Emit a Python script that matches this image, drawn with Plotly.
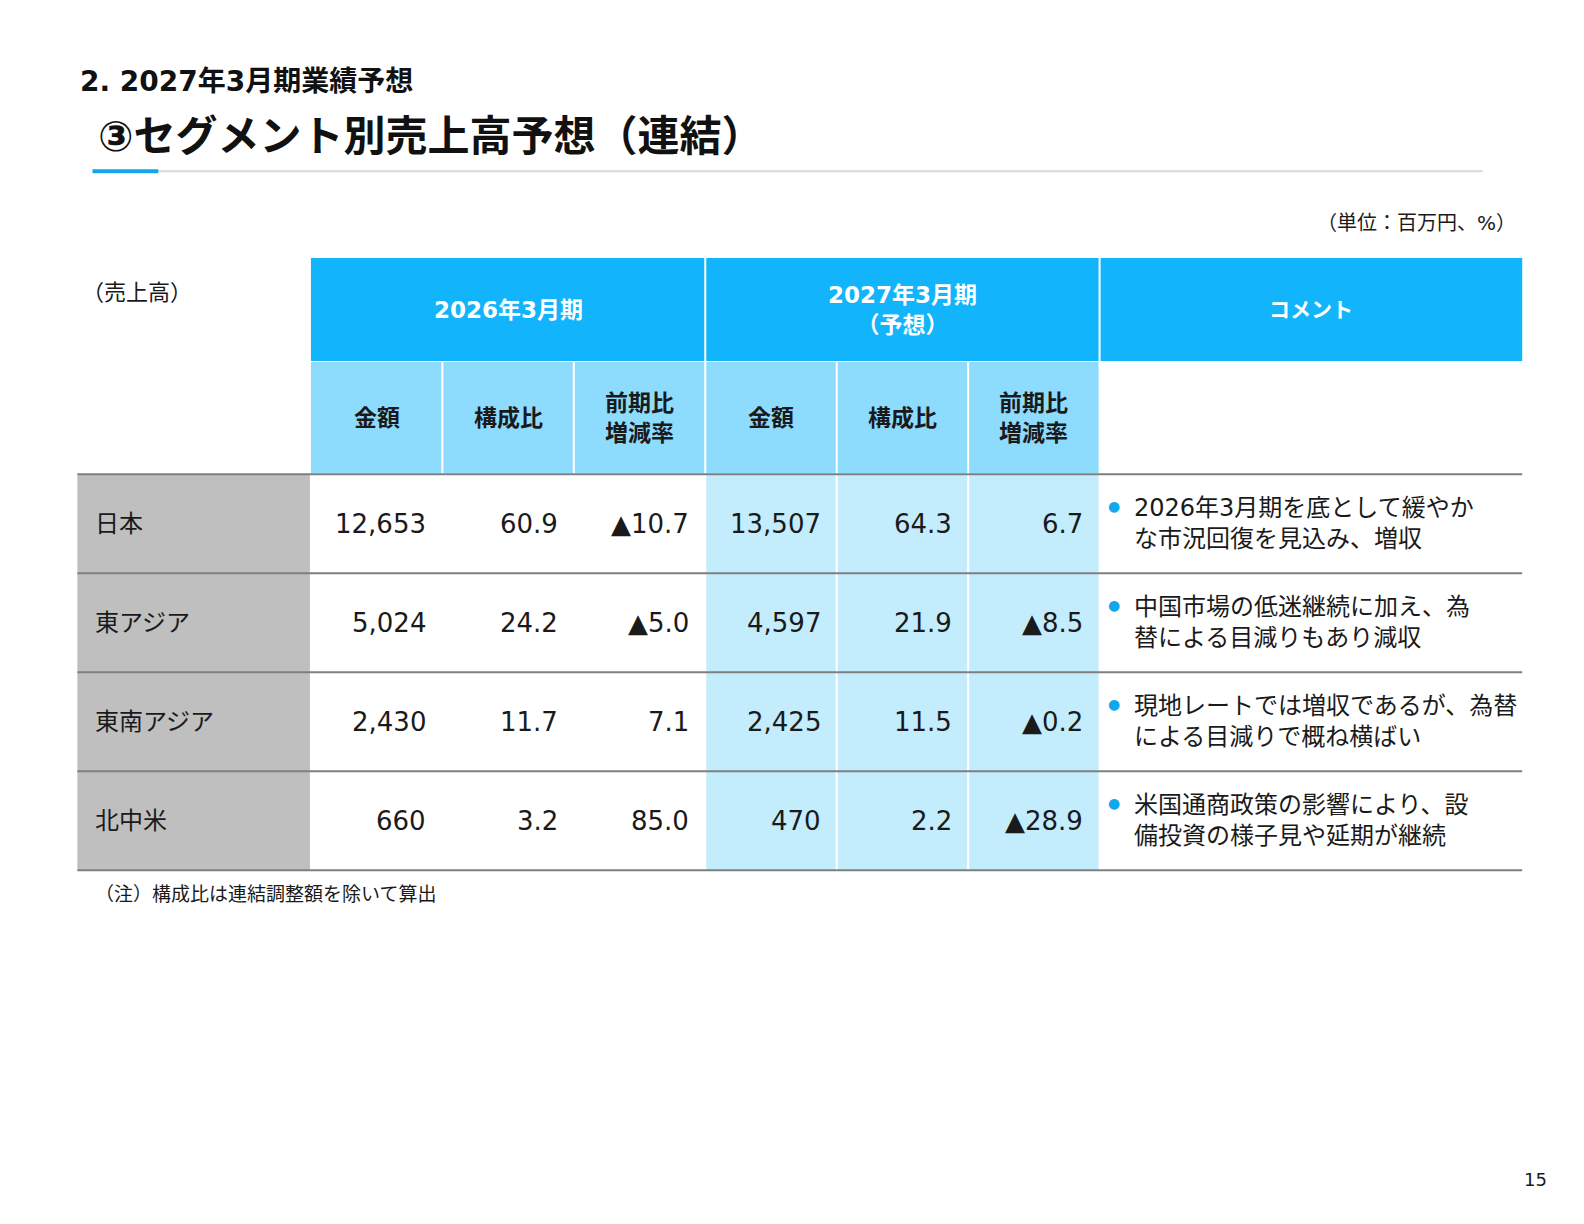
import plotly.graph_objects as go

regions = ["日本", "東アジア", "東南アジア", "北中米"]
amt_2026 = ["12,653", "5,024", "2,430", "660"]
share_2026 = ["60.9", "24.2", "11.7", "3.2"]
yoy_2026 = ["▲10.7", "▲5.0", "7.1", "85.0"]
amt_2027 = ["13,507", "4,597", "2,425", "470"]
share_2027 = ["64.3", "21.9", "11.5", "2.2"]
yoy_2027 = ["6.7", "▲8.5", "▲0.2", "▲28.9"]
comments = [
    ["2026年3月期を底として緩やか", "な市況回復を見込み、増収"],
    ["中国市場の低迷継続に加え、為", "替による目減りもあり減収"],
    ["現地レートでは増収であるが、為替", "による目減りで概ね横ばい"],
    ["米国通商政策の影響により、設", "備投資の様子見や延期が継続"],
]
sub_headers = ["金額", "構成比", "前期比<br>増減率", "金額", "構成比", "前期比<br>増減率"]

F = "DejaVu Sans, Noto Sans CJK JP, sans-serif"
BLUE = "#12b4fb"; MID = "#8ddbfd"; LIGHT = "#c3ecfd"; GREY = "#bfbfbf"; LINE = "#7f7f7f"
fig = go.Figure()
shapes = []; ann = []

def rect(x0, y0, x1, y1, c):
    shapes.append(dict(type="rect", x0=x0, y0=y0, x1=x1, y1=y1, fillcolor=c, line=dict(width=0), layer="below"))

def text(x, y, t, size, anchor="left", bold=False, color="#1a1a1a", va="middle", align="center"):
    if bold: t = f"<b>{t}</b>"
    ann.append(dict(x=x, y=y, text=t, showarrow=False, xanchor=anchor, yanchor=va,
                    font=dict(family=F, size=size, color=color), align=align))

text(78, 78, "2. 2027年3月期業績予想", 28, bold=True, color="#111")
text(95, 133, "③セグメント別売上高予想（連結）", 42, bold=True, color="#111")
shapes.append(dict(type="line", x0=92, x1=1467, y0=167, y1=167, line=dict(color="#d9d9d9", width=2)))
shapes.append(dict(type="line", x0=92, x1=157, y0=167, y1=167, line=dict(color="#12a6e8", width=4)))
text(1502, 218, "（単位：百万円、%）", 20, anchor="right")
text(80, 287, "（売上高）", 22)

colx = [308, 438, 568, 698, 828, 958, 1088]
rect(308, 253, 697, 355, BLUE); rect(699, 253, 1087, 355, BLUE); rect(1089, 253, 1506, 355, BLUE)
text(503, 304, "2026年3月期", 23, "center", True, "white")
text(893, 304, "2027年3月期<br>（予想）", 23, "center", True, "white")
text(1297, 304, "コメント", 21, "center", True, "white")
for i, h in enumerate(sub_headers):
    rect(colx[i] + (1 if i else 0), 356, colx[i + 1] - 1, 466, MID)
    text((colx[i] + colx[i + 1]) / 2, 411, h, 23, "center", True)

rows_y = [467, 565, 663, 761, 859]
cols = [amt_2026, share_2026, yoy_2026, amt_2027, share_2027, yoy_2027]
for r, reg in enumerate(regions):
    y0, y1 = rows_y[r], rows_y[r + 1]
    ym = (y0 + y1) / 2
    rect(77, y0, 307, y1, GREY)
    text(92, ym, reg, 24)
    for c in range(6):
        if c >= 3:
            rect(colx[c] + 1, y0, colx[c + 1] - 1, y1, LIGHT)
        text(colx[c + 1] - 14, ym, cols[c][r], 26, "right")
    text(1102, y0 + 31, "●", 14, "center", color="#0fa8ec")
    text(1120, ym, "<br>".join(comments[r]), 24, "left", align="left")
for y in rows_y:
    shapes.append(dict(type="line", x0=77, x1=1506, y0=y, y1=y, line=dict(color=LINE, width=2)))

text(92, 882, "（注）構成比は連結調整額を除いて算出", 19)
text(1532, 1165, "15", 18, "right")

fig.update_layout(width=1584, height=1224, margin=dict(l=0, r=0, t=0, b=0),
                  paper_bgcolor="white", plot_bgcolor="white", shapes=shapes, annotations=ann,
                  xaxis=dict(range=[8.4, 1575], visible=False, fixedrange=True),
                  yaxis=dict(range=[1217, 5.5], visible=False, fixedrange=True), showlegend=False)
fig.write_html("out.html", config={"displayModeBar": False})
